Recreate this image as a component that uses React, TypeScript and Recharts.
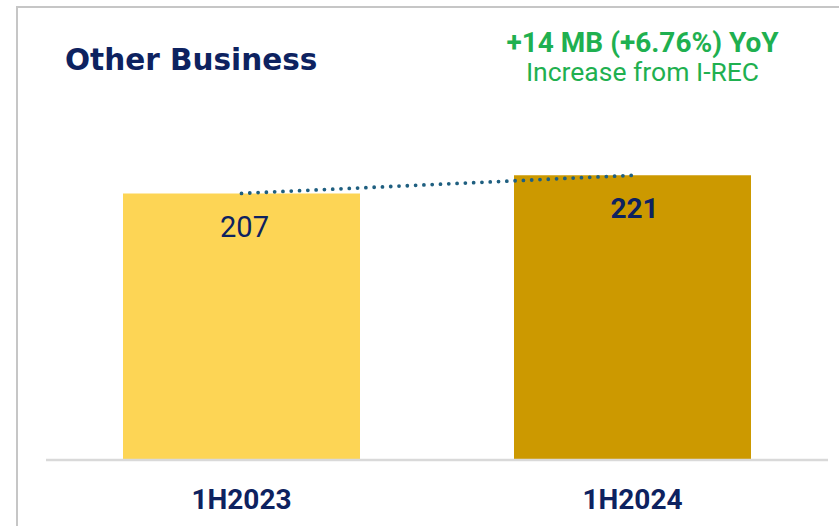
import React from "react";
import { ComposedChart, Bar, Line, XAxis, YAxis, LabelList, Cell } from "recharts";

const categories = ["1H2023", "1H2024"];
const values = [207, 221];
const barColors = ["#FDD555", "#CC9900"];

const data = categories.map((c, i) => ({ period: c, value: values[i] }));

const NAVY = "#0D2260";
const GREEN = "#1FB050";

const ValueLabel = (props: any) => {
  const { x, y, width, value, index } = props;
  const bold = index === 1;
  return (
    <text
      x={x + width / 2 + (bold ? 2 : 3)}
      y={y + (bold ? 43 : 44)}
      textAnchor="middle"
      fill={NAVY}
      fontFamily="Roboto"
      fontWeight={bold ? 700 : 400}
      fontSize={bold ? 28 : 29}
    >
      {value}
    </text>
  );
};

const Tick = (props: any) => {
  const { x, y, payload } = props;
  return (
    <text
      x={x}
      y={y + 41}
      textAnchor="middle"
      fill={NAVY}
      fontFamily="Roboto"
      fontWeight={700}
      fontSize={28}
    >
      {payload.value}
    </text>
  );
};

export default function App() {
  return (
    <div
      style={{
        position: "absolute",
        left: 0,
        top: 0,
        width: 839,
        height: 526,
        overflow: "hidden",
        background: "#ffffff",
      }}
    >
      <div
        style={{
          position: "absolute",
          left: 16,
          top: 6,
          width: 900,
          height: 600,
          borderLeft: "2px solid #C6C6C6",
          borderTop: "2px solid #C6C6C6",
        }}
      />
      <div style={{ position: "absolute", left: 0, top: 0 }}>
        <ComposedChart
          width={839}
          height={526}
          data={data}
          margin={{ top: 138, right: 11, left: 46, bottom: 0 }}
        >
          <XAxis
            dataKey="period"
            height={66}
            tickLine={false}
            axisLine={{ stroke: "#D9D9D9", strokeWidth: 2.5 }}
            tick={<Tick />}
            interval={0}
          />
          <YAxis hide domain={[0, 250]} />
          <Bar dataKey="value" barSize={237} isAnimationActive={false}>
            {data.map((d, i) => (
              <Cell key={d.period} fill={barColors[i]} />
            ))}
            <LabelList dataKey="value" content={<ValueLabel />} />
          </Bar>
          <Line
            dataKey="value"
            type="linear"
            stroke="#1F5F80"
            strokeWidth={3.8}
            strokeDasharray="0 8.3"
            strokeLinecap="round"
            dot={false}
            activeDot={false}
            isAnimationActive={false}
          />
        </ComposedChart>
      </div>
      <svg
        width={839}
        height={526}
        style={{ position: "absolute", left: 0, top: 0, pointerEvents: "none" }}
      >
        <text
          x={65}
          y={70}
          fill={NAVY}
          fontFamily="DejaVu Sans"
          fontWeight={700}
          fontSize={29.5}
        >
          Other Business
        </text>
        <text
          x={642.5}
          y={52}
          textAnchor="middle"
          fill={GREEN}
          fontFamily="Roboto"
          fontWeight={700}
          fontSize={28}
        >
          +14 MB (+6.76%) YoY
        </text>
        <text
          x={642.5}
          y={81}
          textAnchor="middle"
          fill={GREEN}
          fontFamily="Roboto"
          fontWeight={400}
          fontSize={26.5}
        >
          Increase from I-REC
        </text>
      </svg>
    </div>
  );
}
